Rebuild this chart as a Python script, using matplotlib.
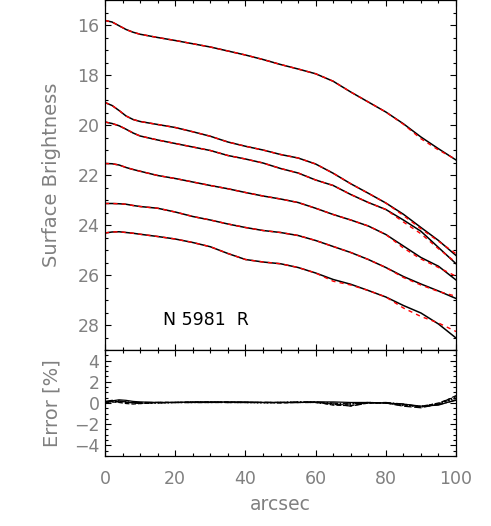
import matplotlib
matplotlib.use("Agg")
import matplotlib.pyplot as plt
from matplotlib.ticker import MultipleLocator

# radius in arcsec
r = [0, 2, 4, 6, 8, 10, 15, 20, 25, 30, 35, 40, 45, 50, 55, 60, 65, 70, 75, 80, 85, 90, 95, 100]

# observed profiles (black)
sb1 = [15.82, 15.88, 16.03, 16.18, 16.29, 16.37, 16.50, 16.62, 16.75, 16.88, 17.04, 17.20,
       17.38, 17.58, 17.76, 17.95, 18.25, 18.68, 19.08, 19.48, 19.95, 20.48, 20.95, 21.40]
sb2 = [19.10, 19.22, 19.42, 19.64, 19.78, 19.86, 19.98, 20.10, 20.27, 20.45, 20.68, 20.85,
       21.00, 21.18, 21.32, 21.56, 21.93, 22.35, 22.73, 23.12, 23.57, 24.10, 24.62, 25.22]
sb3 = [19.88, 19.94, 20.03, 20.17, 20.32, 20.44, 20.60, 20.74, 20.88, 21.02, 21.22, 21.36,
       21.52, 21.74, 21.92, 22.20, 22.42, 22.78, 23.10, 23.38, 23.80, 24.25, 24.90, 25.55]
sb4 = [21.54, 21.55, 21.60, 21.70, 21.78, 21.85, 22.02, 22.14, 22.28, 22.42, 22.55, 22.70,
       22.84, 22.96, 23.10, 23.33, 23.58, 23.80, 24.04, 24.38, 24.84, 25.30, 25.65, 26.20]
sb5 = [23.14, 23.14, 23.15, 23.17, 23.22, 23.26, 23.33, 23.48, 23.66, 23.80, 23.96, 24.10,
       24.22, 24.30, 24.42, 24.62, 24.86, 25.10, 25.38, 25.70, 26.06, 26.36, 26.64, 26.94]
sb6 = [24.32, 24.28, 24.27, 24.30, 24.33, 24.37, 24.46, 24.56, 24.70, 24.87, 25.14, 25.38,
       25.48, 25.55, 25.70, 25.92, 26.18, 26.37, 26.62, 26.88, 27.22, 27.52, 27.96, 28.52]

# model profiles (red dashed)
mod1 = [15.82, 15.88, 16.03, 16.18, 16.29, 16.37, 16.50, 16.62, 16.75, 16.88, 17.04, 17.20,
        17.38, 17.58, 17.76, 17.95, 18.25, 18.68, 19.08, 19.48, 19.97, 20.55, 21.00, 21.38]
mod2 = [19.10, 19.22, 19.42, 19.64, 19.78, 19.86, 19.98, 20.10, 20.27, 20.45, 20.68, 20.85,
        21.00, 21.18, 21.32, 21.56, 21.93, 22.35, 22.73, 23.12, 23.62, 24.15, 24.65, 25.15]
mod3 = [19.88, 19.94, 20.03, 20.17, 20.32, 20.44, 20.60, 20.74, 20.88, 21.02, 21.22, 21.36,
        21.52, 21.74, 21.92, 22.20, 22.42, 22.78, 23.10, 23.38, 23.88, 24.35, 24.95, 25.50]
mod4 = [21.54, 21.55, 21.60, 21.70, 21.78, 21.85, 22.02, 22.14, 22.28, 22.42, 22.55, 22.70,
        22.84, 22.96, 23.10, 23.33, 23.58, 23.80, 24.04, 24.38, 24.92, 25.36, 25.70, 26.05]
mod5 = [23.14, 23.14, 23.15, 23.17, 23.22, 23.26, 23.33, 23.48, 23.66, 23.80, 23.96, 24.10,
        24.22, 24.30, 24.42, 24.62, 24.86, 25.10, 25.38, 25.70, 26.10, 26.40, 26.66, 26.85]
mod6 = [24.32, 24.28, 24.27, 24.30, 24.33, 24.37, 24.46, 24.56, 24.70, 24.87, 25.14, 25.38,
        25.48, 25.55, 25.70, 25.92, 26.25, 26.40, 26.62, 26.88, 27.32, 27.66, 27.92, 28.26]

# residuals in percent
err1 = [0.10, 0.20, 0.30, 0.25, 0.15, 0.10, 0.05, 0.05, 0.10, 0.10, 0.10, 0.10,
        0.05, 0.05, 0.05, 0.10, 0.10, 0.05, 0.05, 0.00, -0.10, -0.30, -0.20, 0.30]
err2 = [0.00, 0.15, 0.20, 0.10, 0.00, -0.05, 0.00, 0.05, 0.05, 0.10, 0.05, 0.05,
        0.00, 0.05, 0.10, 0.05, -0.10, -0.05, 0.05, 0.00, -0.20, -0.40, -0.10, 0.50]
err3 = [0.05, 0.10, 0.05, -0.05, -0.10, -0.05, 0.05, 0.05, 0.05, 0.05, 0.10, 0.05,
        0.05, 0.00, 0.05, 0.10, -0.20, -0.25, 0.00, 0.00, -0.15, -0.35, 0.00, 0.60]
err4 = [0.15, 0.25, 0.20, 0.10, 0.05, 0.00, 0.00, 0.05, 0.05, 0.05, 0.05, 0.05,
        0.05, 0.05, 0.10, 0.10, 0.00, -0.10, 0.00, 0.05, -0.10, -0.35, -0.15, 0.25]
err5 = [0.05, 0.10, 0.15, 0.10, 0.00, -0.05, 0.05, 0.05, 0.10, 0.10, 0.05, 0.05,
        0.05, 0.05, 0.05, 0.05, -0.15, -0.10, 0.05, 0.00, -0.25, -0.30, -0.05, 0.45]
err6 = [0.10, 0.15, 0.10, 0.05, 0.05, 0.05, 0.05, 0.05, 0.05, 0.05, 0.05, 0.05,
        0.05, 0.05, 0.05, 0.05, -0.05, -0.30, 0.00, 0.00, -0.30, -0.45, -0.10, 0.70]

observed = [sb1, sb2, sb3, sb4, sb5, sb6]
models = [mod1, mod2, mod3, mod4, mod5, mod6]
errors = [err1, err2, err3, err4, err5, err6]
err_styles = ["-", ":", "--", "-.", (0, (3, 1, 1, 1, 1, 1)), (0, (6, 2))]

grey = "#808080"
plt.rcParams["font.family"] = "DejaVu Sans"
plt.rcParams["font.size"] = 12.5

fig = plt.figure(figsize=(4.91, 5.26), dpi=100)
ax1 = fig.add_axes([0.2139, 0.3346, 0.7149, 0.6654])
ax2 = fig.add_axes([0.2139, 0.1331, 0.7149, 0.2015])

# black data first, red dashed model on top
for s in observed:
    ax1.plot(r, s, color="black", lw=1.1)
for m in models:
    ax1.plot(r, m, color="red", ls="--", lw=1.0, dashes=(3, 3))

ax1.set_xlim(0, 100)
ax1.set_ylim(29, 15)
ax1.set_ylabel("Surface Brightness", color=grey, fontsize=14)
ax1.yaxis.set_label_coords(-0.125, 0.5)
ax1.text(16.5, 27.8, "N 5981  R", color="black", fontsize=12.5, va="center")
ax1.set_xticklabels([])

for e, st in zip(errors, err_styles):
    ax2.plot(r, e, color="black", lw=0.9, ls=st)

ax2.set_xlim(0, 100)
ax2.set_ylim(-5, 5)
ax2.set_xlabel("arcsec", color=grey, labelpad=5, fontsize=13.5)
ax2.set_ylabel("Error [%]", color=grey, fontsize=14)
ax2.yaxis.set_label_coords(-0.125, 0.5)

for ax in (ax1, ax2):
    ax.xaxis.set_major_locator(MultipleLocator(20))
    ax.xaxis.set_minor_locator(MultipleLocator(5))
    ax.yaxis.set_major_locator(MultipleLocator(2))
    ax.yaxis.set_minor_locator(MultipleLocator(0.5))
    ax.tick_params(which="both", direction="in", top=True, right=True,
                   labelcolor=grey, color="black", width=0.8)
    ax.tick_params(which="major", length=4.5)
    ax.tick_params(which="minor", length=2.2)
    ax.tick_params(axis="y", pad=4)
    ax.tick_params(axis="x", pad=10)
    for sp in ax.spines.values():
        sp.set_linewidth(0.9)

fig.savefig("out.png", dpi=100)
